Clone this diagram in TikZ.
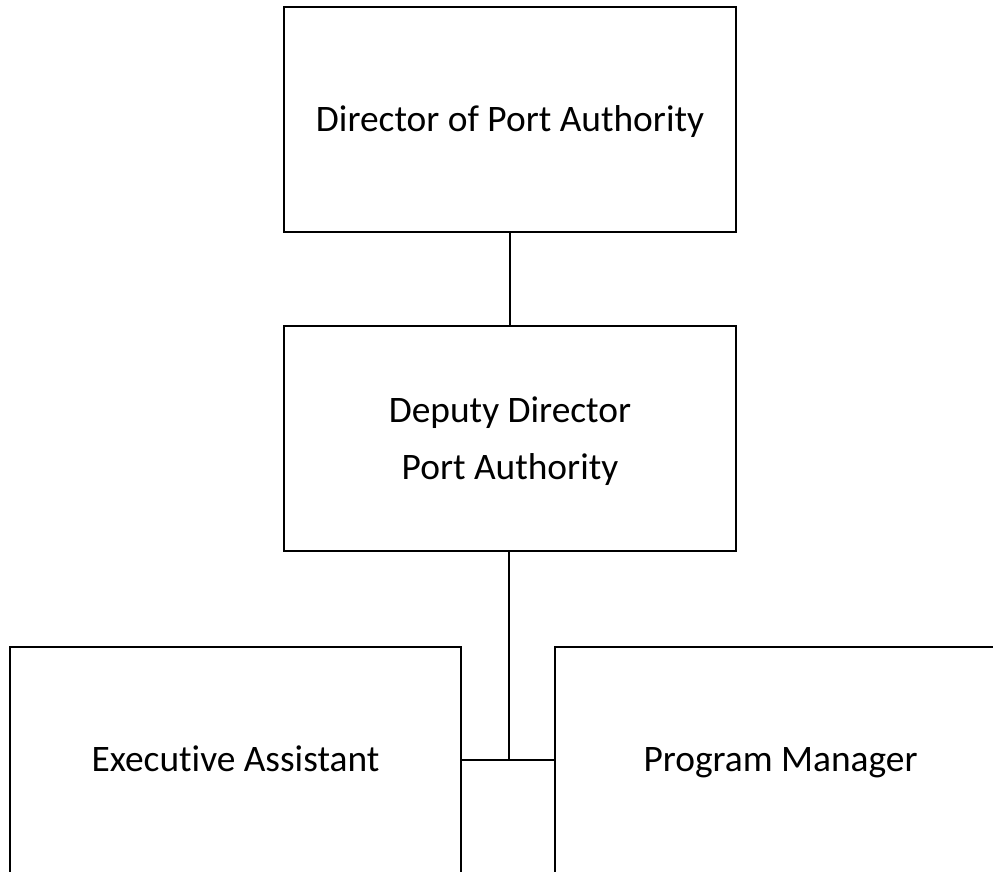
\documentclass[tikz,border=0pt]{standalone}
\usepackage{fontspec}
\setmainfont{Carlito}[Ligatures={NoCommon}]
\begin{document}
\begin{tikzpicture}[x=1pt,y=-1pt,
  orgbox/.style={draw=black, line width=2pt, rectangle, inner sep=0pt,
    minimum width=452pt, minimum height=225pt, align=center,
    text height=24.1pt, text depth=0pt,
    font=\fontsize{37.4}{57}\selectfont},
  link/.style={draw=black, line width=2pt}]
  \useasboundingbox (0,0) rectangle (993,871);
  \clip (0,0) rectangle (993,871);
  % boxes of the chart
  \node[orgbox] (director) at (510,119) {Director of Port Authority};
  \node[orgbox, text height=81.1pt] (deputy) at (510,438.5) {Deputy Director\\Port Authority};
  % the lower row runs past the lower edge of the sheet
  \node[orgbox, minimum width=451pt, minimum height=260pt, text depth=36pt]
    (assistant) at (235.5,777) {Executive Assistant};
  \node[orgbox, minimum width=451pt, minimum height=260pt, text depth=36pt]
    (manager) at (780.5,777) {Program Manager};
  % reporting lines
  \coordinate (junction) at (509,759.5);
  \draw[link] (director.south) -- (deputy.north);
  \draw[link] (deputy.south -| junction) -- (junction);
  \draw[link] (assistant.east |- junction) -- (manager.west |- junction);
\end{tikzpicture}
\end{document}
